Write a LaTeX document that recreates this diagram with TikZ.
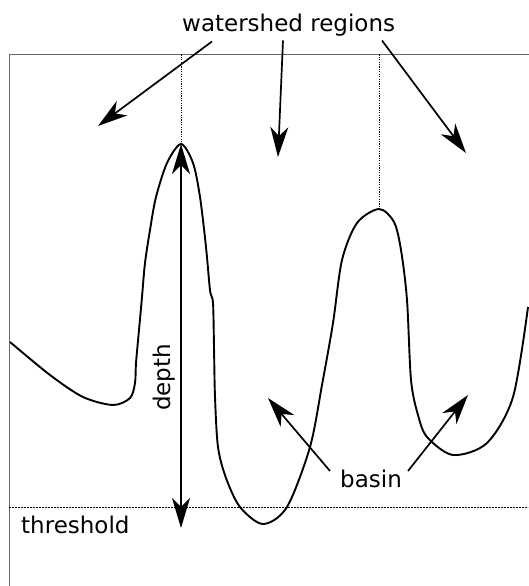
\documentclass[tikz,border=0pt]{standalone}
\usepackage{fontspec}
\setmainfont{DejaVu Sans}
\usetikzlibrary{arrows.meta}

\begin{document}
\begin{tikzpicture}[
  x=1pt,y=-1pt,
  font=\fontsize{23}{28}\selectfont,>={Stealth[length=30pt,width=18pt,inset=9pt]},
  frame/.style={draw=black!60,line width=1pt},
  guide/.style={line width=1pt,dash pattern=on 1.2pt off 1.2pt},
  level/.style={line width=0.8pt,dash pattern=on 2pt off 1pt},
  profile/.style={line width=1.9pt,line join=round},
  pointer/.style={->,line width=1.7pt},
  lbl/.style={inner sep=0pt,anchor=base west},
]
\useasboundingbox (0,0) rectangle (528,586);

% frame and threshold
\draw[frame] (530,54.5) -- (9,54.5) -- (9,590);
\draw[level] (9,507) -- (528,507);

% peaks
\coordinate (peakA) at (181,144);
\coordinate (peakB) at (379,209);
\coordinate (topA) at (181,54.5);
\coordinate (topB) at (379,54.5);
\draw[guide] (topA) -- (peakA);
\draw[guide] (topB) -- (peakB);

% the profile
\draw[profile] plot[smooth,tension=0.5] coordinates {
  (10,342) (50,375) (83,397) (113,405) (130,398) (135,383) (136,363)
  (139,330) (142,297) (145,263) (150,230) (156,197) (167,163) (181,144)
  (193,163) (200,197) (206,247) (210,290) (213,303) (214,347) (215,397)
  (218,447) (226,478) (240,507) (263,524) (287,507) (310,447) (322,385)
  (333,323) (342,260) (357,223) (379,209) (394,222) (401,250) (407,300)
  (411,380) (418,415) (427,437) (453,455) (487,443) (513,397) (528,307)};

% labels
\node[lbl] (ws) at (182,32) {watershed regions};
\node[lbl] (basin) at (340,487.5) {basin};
\node[lbl] (thr) at (21,533) {threshold};
\node[lbl,rotate=90] (depth) at (170,411) {depth};

% depth
\coordinate (deepA) at (181,528);
\draw[<->,line width=1.7pt] (deepA) -- (peakA);

% watershed arrows
\coordinate (wsL) at (212,41.5);
\coordinate (wsM) at (283,40.5);
\coordinate (wsR) at (382,40.5);
\coordinate (regL) at (98,126);
\coordinate (regM) at (278,157);
\coordinate (regR) at (466,153);
\draw[pointer] (wsL) -- (regL);
\draw[pointer] (wsM) -- (regM);
\draw[pointer] (wsR) -- (regR);

% basin arrows
\coordinate (bsL) at (330,471);
\coordinate (bsR) at (408,471);
\coordinate (lowA) at (268,398);
\coordinate (lowB) at (468,395);
\draw[pointer] (bsL) -- (lowA);
\draw[pointer] (bsR) -- (lowB);
\end{tikzpicture}
\end{document}
